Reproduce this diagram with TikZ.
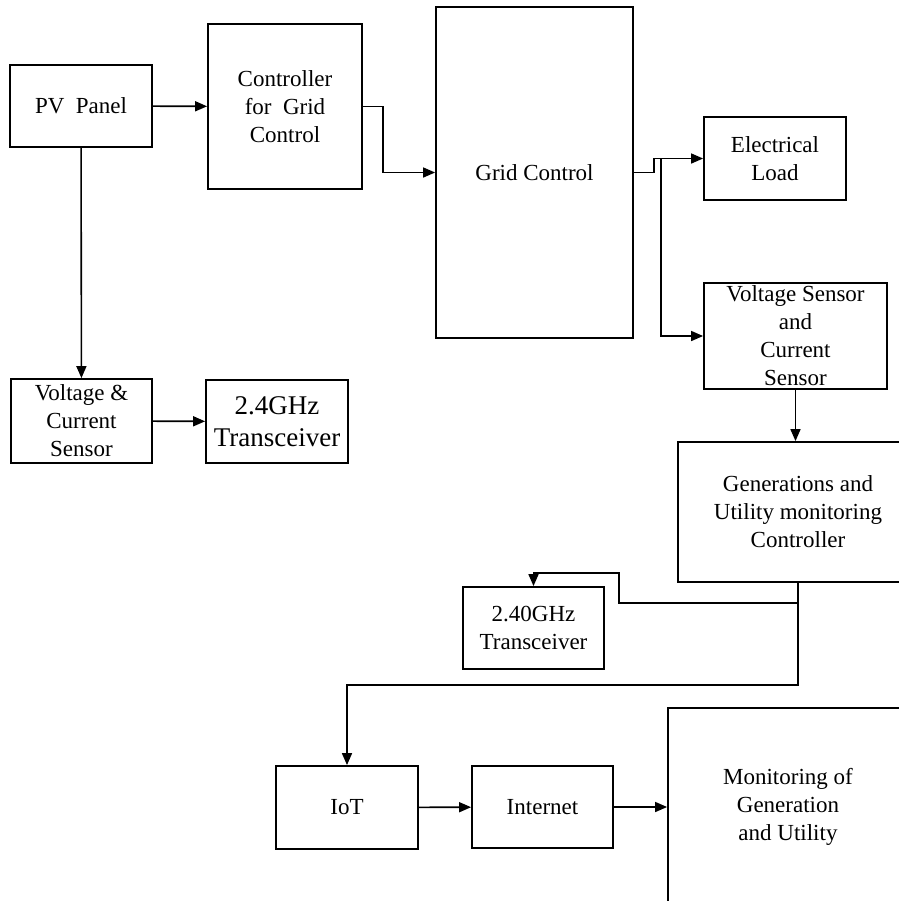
\documentclass[tikz,border=0pt]{standalone}
\usepackage{fontspec}
\setmainfont{Liberation Serif}
\usetikzlibrary{arrows.meta}

\begin{document}
\begin{tikzpicture}[x=0.5pt, y=-0.5pt,
        box/.style={draw, line width=0.9pt, align=center, inner sep=0pt,
            font=\fontsize{11.5}{14}\selectfont},
        bigbox/.style={box, font=\fontsize{13.5}{16}\selectfont},
        arr/.style={-{Triangle[length=6pt, width=5pt]}, line width=0.8pt}]

        \clip (0, 0) rectangle (899, 901);

        % First Row: PV Panel, Controller, Grid Control
        \node[box, minimum width=71pt, minimum height=41pt] (pv) at (81, 106) {PV\ \ Panel};
        \node[box, minimum width=77pt, minimum height=82.5pt] (ctrl) at (285, 106.5) {Controller\\for\ \ Grid\\Control};
        \node[box, minimum width=98.5pt, minimum height=165.5pt] (grid) at (534.5, 172.5) {Grid Control};

        % Outputs of the grid
        \node[box, minimum width=71pt, minimum height=41.5pt] (load) at (775, 158.5) {Electrical\\Load};
        \node[box, minimum width=91.5pt, minimum height=53pt] (vsens) at (795.5, 336) {Voltage Sensor\\and\\Current\\Sensor};

        % Sensor of the panel
        \node[box, minimum width=70.5pt, minimum height=42pt] (vcs) at (81.5, 421) {Voltage \&\\Current\\Sensor};
        \node[bigbox, minimum width=71pt, minimum height=41.5pt] (trx1) at (277, 421.5) {2.4GHz\\Transceiver};

        % Monitoring controller
        \node[box, minimum width=120pt, minimum height=70pt] (gen) at (798, 512) {Generations and\\Utility monitoring\\Controller};
        \node[box, minimum width=70.5pt, minimum height=41pt] (trx2) at (533.5, 628) {2.40GHz\\Transceiver};

        % Last Row: IoT, Internet, Monitoring
        \node[box, minimum width=71pt, minimum height=41.5pt] (iot) at (347, 807.5) {IoT};
        \node[box, minimum width=70.5pt, minimum height=41pt] (inet) at (542.5, 807) {Internet};
        \node[box, minimum width=120pt, minimum height=99pt] (mon) at (788, 807) {Monitoring of\\Generation\\and Utility};

        % Connectors
        \coordinate (tap) at (661, 158.5);
        \draw[arr] (pv) -- (ctrl);
        \draw[arr] (ctrl.east) -- ++(20, 0) |- (grid.west);
        \draw[arr] (grid.east) -- ++(20, 0) |- (load.west);
        \draw[arr] (tap) |- (vsens.west);
        \draw[arr] (pv) -- (vcs);
        \draw[arr] (vcs) -- (trx1);
        \draw[arr] (vsens.south) -- (vsens.south |- gen.north);
        \draw[arr] (gen.south) -- ++(0, 20) -| ++(-179, -30) -| (trx2.north);
        \draw[arr] (gen.south) -- ++(0, 102) -| (iot.north);
        \draw[arr] (iot) -- (inet);
        \draw[arr] (inet) -- (mon);

\end{tikzpicture}
\end{document}
